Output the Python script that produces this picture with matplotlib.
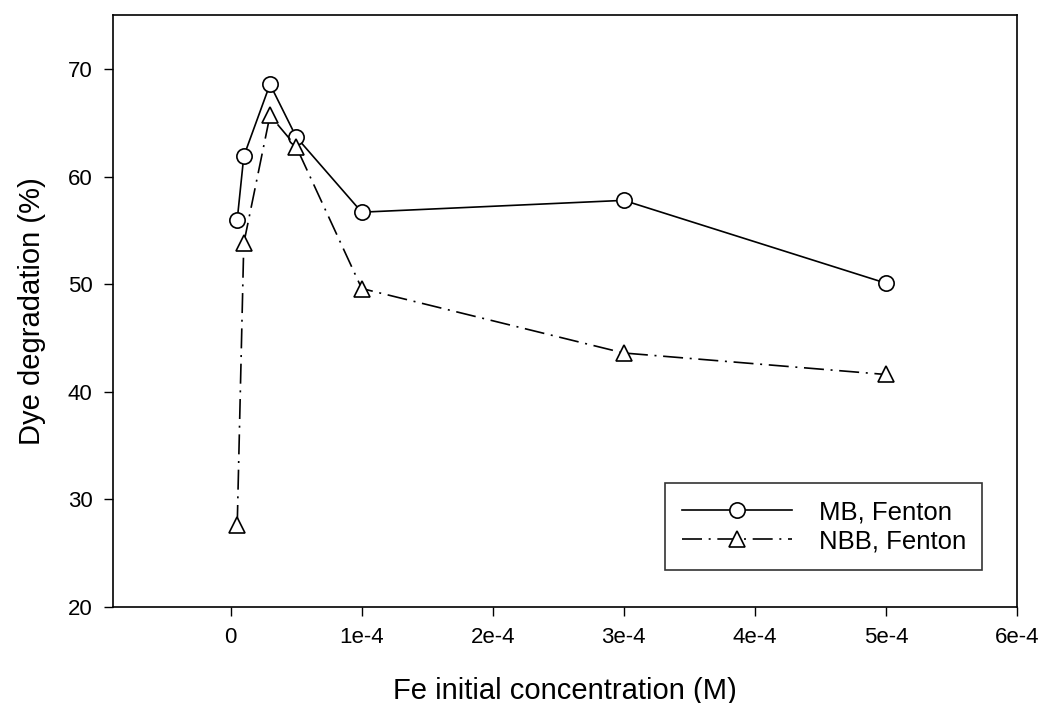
import matplotlib
matplotlib.use("Agg")
import matplotlib.pyplot as plt

plt.rcParams['font.family'] = ['Liberation Sans', 'DejaVu Sans']

# Fe initial concentration (M)
fe_conc = [5e-6, 1e-5, 3e-5, 5e-5, 1e-4, 3e-4, 5e-4]
mb_fenton = [56.0, 61.9, 68.6, 63.7, 56.7, 57.8, 50.1]
nbb_fenton = [27.6, 53.8, 65.7, 62.8, 49.6, 43.6, 41.6]

x_ticks = [0, 1e-4, 2e-4, 3e-4, 4e-4, 5e-4, 6e-4]
x_tick_labels = ["0", "1e-4", "2e-4", "3e-4", "4e-4", "5e-4", "6e-4"]
y_ticks = [20, 30, 40, 50, 60, 70]

fig = plt.figure(figsize=(10.44, 7.03), dpi=100)
ax = fig.add_axes([0.108, 0.137, 0.866, 0.841])

ax.plot(fe_conc, mb_fenton, color="black", lw=1.2, marker="o", ms=11,
        mfc="white", mec="black", mew=1.2, label="MB, Fenton")
ax.plot(fe_conc, nbb_fenton, color="black", lw=1.2, ls=(0, (12, 4, 1.2, 4)),
        marker="^", ms=11, mfc="white", mec="black", mew=1.2,
        label="NBB, Fenton")

ax.set_xlim(-0.9e-4, 6e-4)
ax.set_ylim(20, 75)
ax.set_xticks(x_ticks)
ax.set_xticklabels(x_tick_labels)
ax.set_yticks(y_ticks)
ax.tick_params(direction="out", length=6.5, width=1, labelsize=16, pad=8)

for sp in ax.spines.values():
    sp.set_linewidth(1.2)

ax.set_xlabel("Fe initial concentration (M)", fontsize=21, labelpad=21)
ax.set_ylabel("Dye degradation (%)", fontsize=21, labelpad=16)

leg = ax.legend(loc="lower left", bbox_to_anchor=(0.611, 0.062, 0.35, 0.152),
                mode="expand", fontsize=18.5, frameon=True, fancybox=False,
                edgecolor="black", handlelength=4.3, borderpad=0.65,
                labelspacing=0.2, handletextpad=1.05, borderaxespad=0)
leg.get_frame().set_linewidth(1.2)

fig.savefig("out.png", dpi=100)
